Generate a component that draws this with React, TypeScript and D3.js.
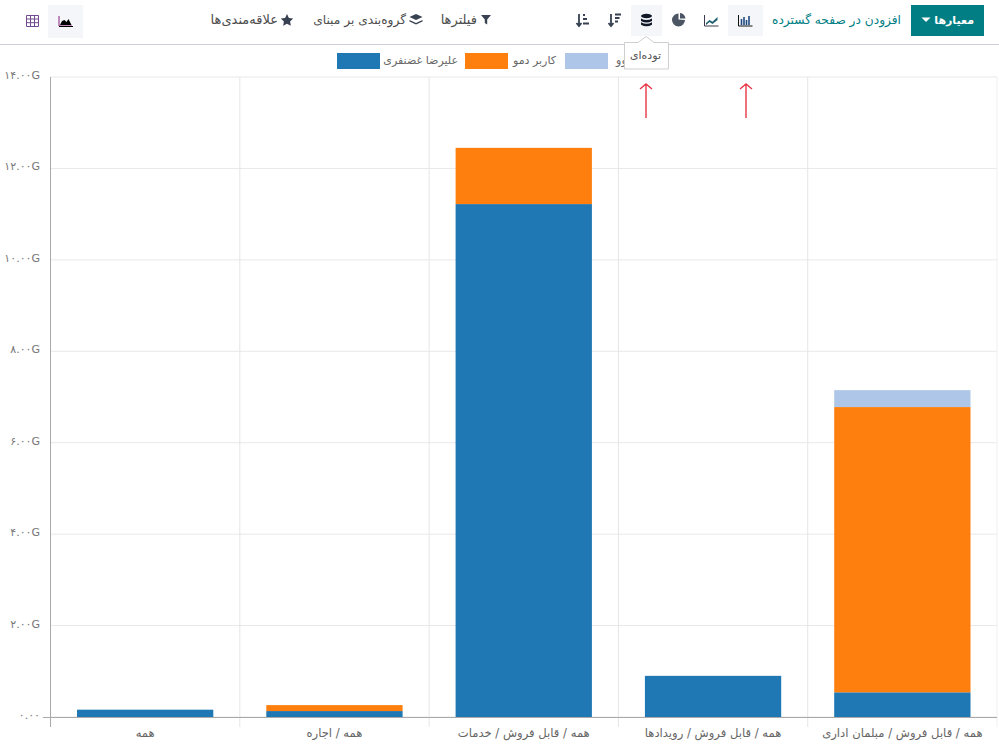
import React from "react";
import * as d3 from "d3";

const categories = ["همه", "همه / اجاره", "همه / قابل فروش / خدمات", "همه / قابل فروش / رویدادها", "همه / قابل فروش / مبلمان اداری"];
const seriesNames = ["علیرضا غضنفری", "کاربر دمو", "اودوو"];
const seriesColors = ["#1f77b4", "#ff7f0e", "#aec7e8"];
const alireza = [0.16, 0.13, 11.22, 0.9, 0.54];
const demo = [0, 0.13, 1.23, 0, 6.24];
const odoo = [0, 0, 0, 0, 0.37];
const yTicks = [0, 2, 4, 6, 8, 10, 12, 14];
const yTickLabels = ["۰.۰۰", "۲.۰۰G", "۴.۰۰G", "۶.۰۰G", "۸.۰۰G", "۱۰.۰۰G", "۱۲.۰۰G", "۱۴.۰۰G"];

const FONT = "'DejaVu Sans', 'Noto Sans', sans-serif";
const W = 999, H = 748;
const x = d3.scaleBand<number>().domain(categories.map((_, i) => i)).range([50.5, 997]).paddingInner(0).paddingOuter(0);
const y = d3.scaleLinear().domain([0, 14]).range([717, 77]);
const rows = categories.map((_, i) => ({ i, a: alireza[i], b: demo[i], c: odoo[i] }));
const stacked = d3.stack<any>().keys(["a", "b", "c"])(rows);

const RtlText = ({ x: tx, y: ty = 24, fill = "#4c4c4c", size = 12, weight = 400, children }: any) => (
  <text x={tx} y={ty} textAnchor="start" direction="rtl" fontSize={size} fontWeight={weight} fill={fill} fontFamily={FONT}>{children}</text>
);

export default function App() {
  const inset = x.bandwidth() * 0.14;
  return (
    <svg width={W} height={H} viewBox={`0 0 ${W} ${H}`} style={{ position: "fixed", left: 0, top: 0, background: "#fff" }}>
      {/* control panel */}
      <rect x={48} y={5} width={35} height={33} fill="#f5f6fa" />
      <rect x={728} y={5} width={35} height={31} fill="#f5f6fa" />
      <rect x={631} y={5} width={31} height={31} fill="#f5f6fa" />
      <rect x={911} y={5} width={73} height={31} fill="#017e84" />
      <path d="M921.5 17.500 h9 l-4.5 4.500 z" fill="#fff" />
      <RtlText x={974} fill="#fff" weight={700} size={11}>معیارها</RtlText>
      <RtlText x={901} fill="#017e84" size={12.2}>افزودن در صفحه گسترده</RtlText>
      <RtlText x={477} size={13}>فیلترها</RtlText>
      <RtlText x={406} size={12.2}>گروه‌بندی بر مبنای</RtlText>
      <RtlText x={278} size={13}>علاقه‌مندی‌ها</RtlText>
      <path d="M481 15 h10 l-3.8 4.6 v5 l-2.4 -1.6 v-3.4 z" fill="#374151" />
      <path d="M416 14 l6.5 3 -6.5 3 -6.5 -3 z M409.5 20 l6.5 3 6.5 -3 v1.5 l-6.5 3 -6.5 -3 z" fill="#374151" />
      <path d="M287 14 l1.9 3.9 4.3 .6 -3.1 3 .7 4.3 -3.8 -2 -3.8 2 .7 -4.3 -3.1 -3 4.3 -.6 z" fill="#374151" />
      {/* view icons */}
      <g fill="none" stroke="#111827">
        <path d="M738.5 15 v11 h14" stroke="#111" />
        <path d="M741.5 25 v-6 M744 25 v-8 M746.5 25 v-5 M749 25 v-9" stroke="#1f4b80" strokeWidth={1.6} />
        <path d="M704.5 15 v11 h14" stroke="#3a3a50" />
        <path d="M706 23 l3.5 -3 3 1.8 5 -4.8 v3 l-5 4 -3 -2 -3.5 3 z" fill="#1f5f70" stroke="none" />
      </g>
      <path d="M678.5 19.5 v-6 a6.500 6.500 0 1 0 6.500 6.500 z M680 13 a6.500 6.500 0 0 1 5.500 5.500 h-5.500 z" fill="#4b5563" />
      <g fill="#111827">
        <ellipse cx={646.500} cy={16} rx={5.500} ry={2.200} />
        <path d="M641 18.500 q5.500 3 11 0 v2.600 q-5.500 3 -11 0 z M641 22.300 q5.500 3 11 0 v2.500 q-5.500 3 -11 0 z" />
      </g>
      <g stroke="#374151" fill="none" strokeWidth={1.8}>
        <path d="M611 14 v12 M608.500 23 l2.500 3 2.500 -3 M615 14.500 h6 M615 18 h4.500 M615 21.500 h3" />
        <path d="M579 14 v12 M576.500 23 l2.500 3 2.500 -3 M583 15 h2 M583 19 h4 M583 23.500 h6" />
      </g>
      <g stroke="#714b8f" fill="none">
        <path d="M26.500 15.500 h12 v11 h-12 z M26.500 19 h12 M26.500 22.700 h12 M30.500 15.500 v11 M34.500 15.500 v11" />
      </g>
      <path d="M59 16 v10 h13" stroke="#8a1f7a" fill="none" />
      <path d="M60 25 l2 -4 2.500 -1 2 2 2 -3 3 6 z" fill="#000" />
      <path d="M59 26.500 h14" stroke="#000" />
      <line x1={0} x2={W} y1={44.500} y2={44.500} stroke="#d0d0d8" />

      {/* grid */}
      {yTicks.map((t) => (
        <line key={t} x1={50.5} x2={997} y1={y(t)} y2={y(t)} stroke="#e8e8e8" />
      ))}
      {categories.map((_, i) => (
        <line key={i} x1={x(i)! + x.bandwidth()} x2={x(i)! + x.bandwidth()} y1={77} y2={727} stroke={i === 4 ? "#f0f0f0" : "#e5e5e5"} />
      ))}

      {/* bars */}
      {stacked.map((layer, s) => (
        <g key={s}>
          {layer.filter((d) => d[1] - d[0] > 0).map((d) => (
            <rect key={d.data.i} x={x(d.data.i)! + inset} width={x.bandwidth() - 2 * inset} y={y(d[1])} height={y(d[0]) - y(d[1])} fill={seriesColors[s]} />
          ))}
        </g>
      ))}

      {/* axes */}
      <line x1={50.5} x2={50.5} y1={77} y2={727} stroke="#a9a9a9" />
      <line x1={43} x2={997} y1={717.5} y2={717.5} stroke="#a9a9a9" />
      {yTicks.map((t, i) => (
        <text key={t} x={40} y={y(t) + 2} textAnchor="end" fontSize={11} fill="#777" fontFamily={FONT}>{yTickLabels[i]}</text>
      ))}
      {categories.map((c, i) => (
        <text key={i} x={x(i)! + x.bandwidth() / 2} y={737} textAnchor="middle" direction="rtl" fontSize={11.6} fill="#666" fontFamily={FONT}>{c}</text>
      ))}

      {/* legend */}
      {seriesNames.map((n, i) => {
        const rx = [337, 465, 565][i];
        const tx = [458, 556, 640][i];
        return (
          <g key={n}>
            <rect x={rx} y={53} width={43} height={16} fill={seriesColors[i]} />
            <RtlText x={tx} y={64} fill="#666" size={11}>{n}</RtlText>
          </g>
        );
      })}

      {/* tooltip */}
      <path d="M624.500 42.500 h13.500 l8 -6 8 6 h14.500 v26.500 h-44 z" fill="#fff" stroke="#cfcfcf" />
      <RtlText x={661} y={59} fill="#555" size={11}>توده‌ای</RtlText>

      {/* annotation arrows */}
      {[646, 746].map((ax) => (
        <path key={ax} d={`M${ax} 118 V84 M${ax - 6} 89 L${ax} 84 L${ax + 6} 89`} fill="none" stroke="#e63946" strokeWidth={1.400} />
      ))}
    </svg>
  );
}
